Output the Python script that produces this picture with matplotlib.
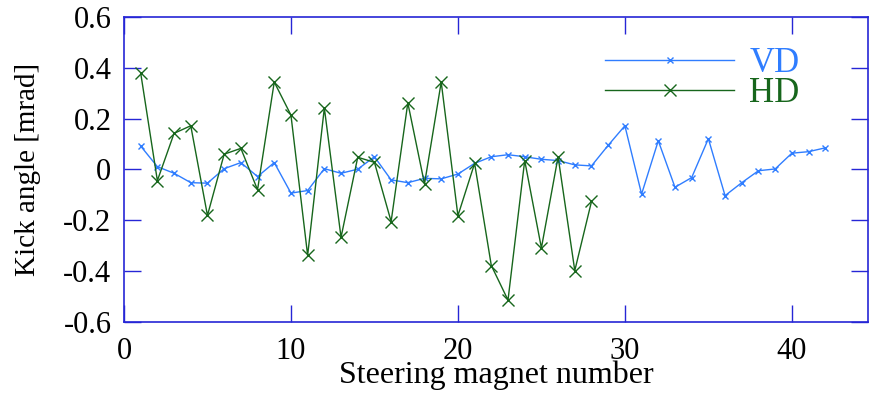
import numpy as np
import matplotlib.pyplot as plt

# kick angles per steering magnet [mrad]
vd_magnet = list(range(1, 43))
vd_kick = [0.092, 0.011, -0.015, -0.052, -0.054, 0.003, 0.027, -0.028, 0.027, -0.093,
           -0.083, 0.003, -0.015, 0.001, 0.050, -0.041, -0.052, -0.035, -0.037, -0.018,
           0.024, 0.050, 0.058, 0.050, 0.040, 0.035, 0.018, 0.014, 0.095, 0.172,
           -0.097, 0.113, -0.070, -0.032, 0.121, -0.103, -0.052, -0.005, 0.002, 0.064,
           0.070, 0.085]

hd_magnet = list(range(1, 29))
hd_kick = [0.380, -0.044, 0.142, 0.172, -0.181, 0.060, 0.083, -0.080, 0.344, 0.214,
           -0.338, 0.242, -0.267, 0.048, 0.028, -0.205, 0.262, -0.057, 0.344, -0.182,
           0.024, -0.378, -0.514, 0.035, -0.309, 0.050, -0.398, -0.126]

x_ticks = [0, 10, 20, 30, 40]
y_ticks = [-0.6, -0.4, -0.2, 0, 0.2, 0.4, 0.6]

vd_color = "#2f7dff"
hd_color = "#17661c"
frame_color = "#2626d6"

plt.rcParams["font.family"] = ["Liberation Serif", "DejaVu Serif"]

fig = plt.figure(figsize=(8.7, 3.95), dpi=100)
ax = fig.add_axes([0.1425, 0.185, 0.855, 0.772])

ax.plot(vd_magnet, vd_kick, color=vd_color, lw=1.0, marker="x", ms=4, mew=1.0, label="VD")
ax.plot(hd_magnet, hd_kick, color=hd_color, lw=1.0, marker="x", ms=8, mew=1.0, label="HD")

ax.set_xlim(0, 44.55)
ax.set_ylim(-0.6, 0.6)
ax.set_xticks(x_ticks)
ax.set_yticks(y_ticks)
ax.set_yticklabels(["-0.6", "-0.4", "-0.2", "0", "0.2", "0.4", "0.6"])

for s in ax.spines.values():
    s.set_color(frame_color)
    s.set_linewidth(1.2)
ax.tick_params(direction="in", length=12, width=1.0, color=frame_color,
               top=True, right=True, labelsize=22)
ax.tick_params(axis="x", pad=11)
ax.tick_params(axis="y", pad=9)

ax.set_xlabel("Steering magnet number", fontsize=23, labelpad=-4)
ax.set_ylabel("Kick angle [mrad]", fontsize=21, labelpad=16)

leg = ax.legend(loc="upper right", bbox_to_anchor=(0.927, 0.946), frameon=False,
                fontsize=25, handlelength=3.7, handletextpad=0.45, labelspacing=-0.1,
                borderaxespad=0)
for txt, c in zip(leg.get_texts(), [vd_color, hd_color]):
    txt.set_color(c)

fig.savefig("out.png", dpi=100)
